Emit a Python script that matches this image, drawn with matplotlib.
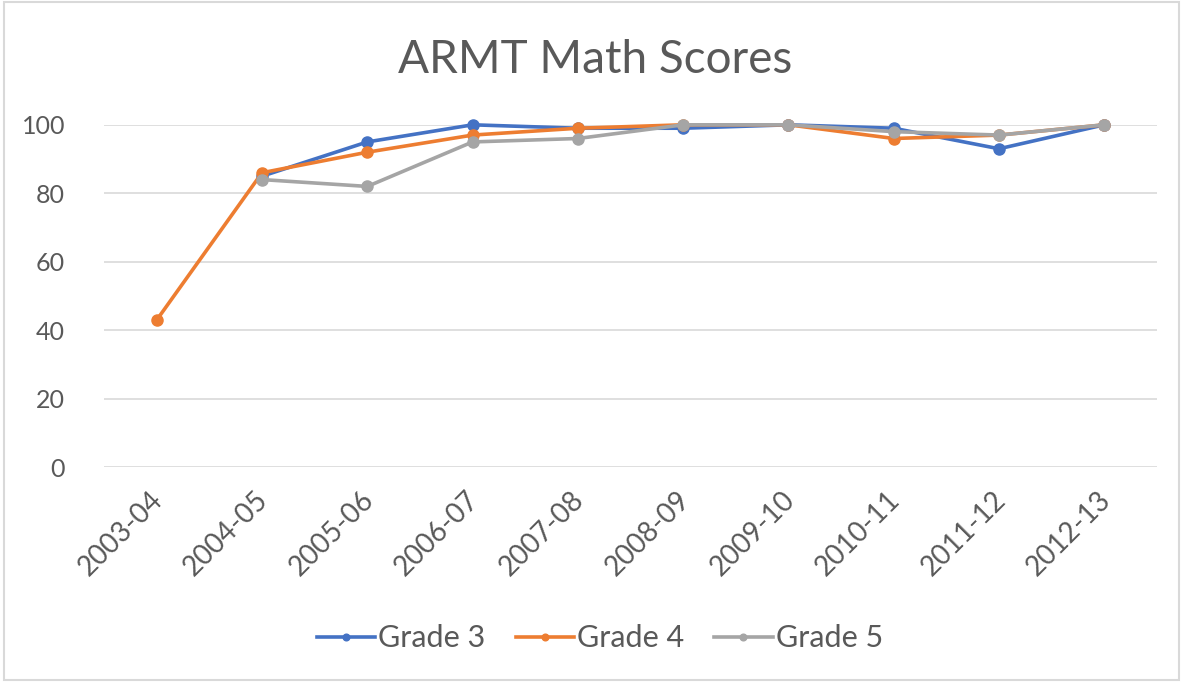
import matplotlib
matplotlib.use("Agg")
import matplotlib.pyplot as plt
from matplotlib.patches import Rectangle
from matplotlib.transforms import ScaledTranslation
import numpy as np

years = ["2003-04", "2004-05", "2005-06", "2006-07", "2007-08",
         "2008-09", "2009-10", "2010-11", "2011-12", "2012-13"]
grade3 = [None, 85, 95, 100, 99, 99, 100, 99, 93, 100]
grade4 = [43, 86, 92, 97, 99, 100, 100, 96, 97, 100]
grade5 = [None, 84, 82, 95, 96, 100, 100, 98, 97, 100]
series_names = ["Grade 3", "Grade 4", "Grade 5"]
colors = ["#4472C4", "#ED7D31", "#A5A5A5"]
yticks = [0, 20, 40, 60, 80, 100]

plt.rcParams['font.family'] = ['Lato', 'DejaVu Sans']
fig = plt.figure(figsize=(11.83, 6.82), dpi=100)
fig.patch.set_facecolor('white')
fig.add_artist(Rectangle((0.003, 0.003), 0.994, 0.994, transform=fig.transFigure,
                         fill=False, edgecolor='#D9D9D9', linewidth=1.5))
ax = fig.add_axes([0.088, 0.315, 0.890, 0.502])

x = np.arange(len(years))
for vals, name, c in zip([grade3, grade4, grade5], series_names, colors):
    v = np.array([np.nan if a is None else a for a in vals], dtype=float)
    ax.plot(x, v, color=c, lw=2.6, marker='o', markersize=8, label=name,
            clip_on=False, zorder=3)

ax.set_xlim(-0.5, len(years) - 0.5)
ax.set_ylim(0, 100)
ax.set_yticks(yticks)
ax.set_xticks(x)
ax.set_xticklabels(years, rotation=45, ha='right', rotation_mode='anchor')
ax.grid(axis='y', color='#D9D9D9', lw=1.2)
ax.set_axisbelow(True)
for s in ax.spines.values():
    s.set_visible(False)
ax.tick_params(axis='y', length=0, labelsize=18, colors='#595959', pad=28)
ax.tick_params(axis='x', length=0, labelsize=20, colors='#595959', pad=8)
off = ScaledTranslation(-7 / 100, -8 / 100, fig.dpi_scale_trans)
for lbl in ax.get_xticklabels():
    lbl.set_transform(lbl.get_transform() + off)

fig.text(0.503, 0.912, "ARMT Math Scores", ha='center', va='center',
         fontsize=33, color='#595959')

leg = fig.legend(loc='center', bbox_to_anchor=(0.507, 0.064), ncol=3,
                 frameon=False, fontsize=22, handlelength=1.9,
                 columnspacing=1.0, handletextpad=0.1, markerscale=0.6)
for t in leg.get_texts():
    t.set_color('#595959')

fig.savefig("out.png", dpi=100, facecolor='white')
